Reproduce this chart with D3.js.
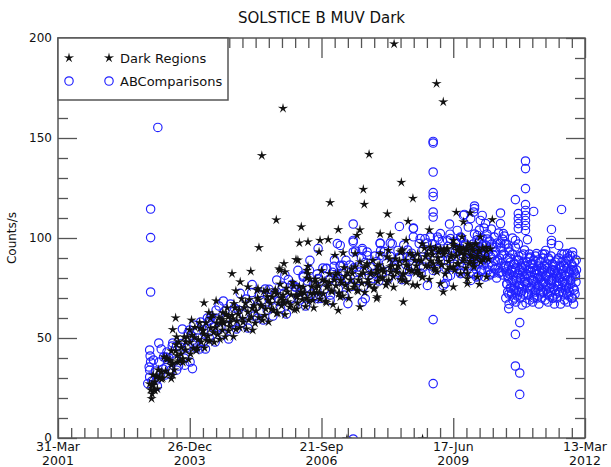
<!DOCTYPE html>
<html>
<head>
<meta charset="utf-8">
<script src="https://cdn.jsdelivr.net/npm/d3@7"></script>
<style>
  body { margin: 0; background: #fff; }
  text { font-family: "DejaVu Sans", sans-serif; fill: #111; }
</style>
</head>
<body>
<div id="chart"></div>
<script>
// ---- data (decimal year, counts/s) ----
const chartTitle = "SOLSTICE B MUV Dark";
const yLabel = "Counts/s";
const seriesNames = ["Dark Regions", "ABComparisons"];
const yMajorTicks = [0, 50, 100, 150, 200];
const xMajorTicks = ["2001-03-31", "2003-12-26", "2006-09-21", "2009-06-17", "2012-03-13"];

const darkRegions = [
  // scattered high / low points
  [2008.23,197],[2009.11,177.2],[2009.25,168],[2005.92,164.8],[2005.48,141.2],[2007.71,141.8],
  [2008.38,127.8],[2007.59,124.3],[2006.90,117.7],[2007.61,116.8],[2008.62,119.8],[2005.78,109],
  [2006.30,105.5],[2007.07,104.2],[2008.09,112],[2008.52,108.3],[2005.42,95.2],[2009.52,112.8],
  [2009.67,108],[2009.81,112.5],[2010.27,109.2],[2007.52,104],[2007.94,102],[2008.15,101.5],
  [2008.96,104],[2008.48,98.8],[2008.81,97],[2007.46,101.3],[2006.26,97.5],[2006.44,98],
  [2006.69,98.8],[2006.86,99.2],[2006.67,93],[2007.00,91.3],[2007.17,92.5],[2007.42,92.2],
  [2007.94,92.2],[2008.11,93.8],[2008.36,93],[2008.40,94],[2008.98,95.5],[2009.15,93],
  [2009.34,94.7],[2009.54,93.8],[2009.67,94.7],[2009.81,96.3],[2009.46,98.8],[2009.64,100.5],
  [2009.92,97.2],[2010.02,100.5],[2009.25,93.8],[2009.75,93.8],[2009.85,90.5],[2009.88,87.2],
  [2006.19,89.2],[2005.94,87.2],[2005.84,84.5],[2006.23,88.9],[2005.86,83.8],[2005.96,83],
  [2006.42,83.8],[2006.44,85.8],[2006.44,82.2],[2006.59,78],[2004.86,82.2],[2005.25,83.3],
  [2005.03,78],[2004.94,73.5],[2005.38,73.9],[2005.59,73.9],[2005.80,72.2],[2005.19,75.5],
  [2005.40,74.7],[2004.28,67.5],[2004.53,68.5],[2004.90,67.2],[2003.69,60],[2004.02,58.9],
  [2004.38,62.7],[2004.67,62.7],[2004.78,60.5],[2004.65,59.2],[2003.63,54.2],[2003.98,54],
  [2003.71,50.5],[2004.26,53.9],[2003.22,26.4],[2003.26,23.9],[2003.19,19.7],[2003.60,29.7],
  [2003.63,31.4],[2003.84,39.7],[2003.73,38],[2007.52,65.5],[2007.87,69.7],[2008.42,68],
  [2009.25,73],[2009.46,75.5],[2007.07,63.8],[2009.75,77.2],[2010.00,76.8],[2010.15,80.5],
  [2009.75,79.7],[2007.67,87.2],[2007.88,83.8],[2008.15,85.5],[2008.42,82.2],[2008.71,83.8],
  [2009.04,87.2],[2009.46,85.5],[2009.75,82.2],[2009.96,80.5],[2007.88,70.5],[2008.71,76.3],
  [2009.19,77.2],[2009.61,82.2],[2005.92,68.8],[2006.21,70.5],[2006.55,72.2],[2006.83,75.5],
  [2007.11,70.5],[2007.25,-0.5],[2008.82,-0.5],
  // main band
  [2003.15,27],[2003.17,24],[2003.19,26.5],[2003.20,22],[2003.22,31.5],[2003.24,24],[2003.26,28],
  [2003.28,30.5],[2003.31,24.5],[2003.33,34],[2003.36,30],[2003.39,33],[2003.42,30],[2003.45,40.5],
  [2003.48,33.5],[2003.51,39.3],[2003.54,32],[2003.57,38.8],[2003.60,43.5],[2003.63,37.3],
  [2003.66,34],[2003.69,43.5],[2003.72,41.2],[2003.75,48],[2003.78,38.5],[2003.81,45.2],
  [2003.84,37.8],[2003.87,50.4],[2003.90,44],[2003.93,50.6],[2003.96,39.2],[2003.99,47.8],
  [2004.03,51.4],[2004.06,44.8],[2004.09,55.3],[2004.12,43.7],[2004.16,49.2],[2004.19,57.7],
  [2004.22,48],[2004.26,53.6],[2004.29,45],[2004.32,57.5],[2004.36,51],[2004.39,48.5],
  [2004.42,54.9],[2004.46,61.4],[2004.49,47.9],[2004.52,55.2],[2004.56,51.7],[2004.59,60.1],
  [2004.62,57.4],[2004.66,53.9],[2004.69,57.3],[2004.72,50.6],[2004.76,65.1],[2004.79,53.5],
  [2004.82,57.8],[2004.86,61.3],[2004.89,50.7],[2004.92,65],[2004.96,58.5],[2004.99,61.9],
  [2005.02,55.2],[2005.06,69.6],[2005.09,57.9],[2005.12,65.2],[2005.16,54.6],[2005.19,62.9],
  [2005.22,69.2],[2005.26,60.6],[2005.29,53.9],[2005.32,66.2],[2005.36,63.6],[2005.39,69.9],
  [2005.42,60.2],[2005.46,66.6],[2005.49,58.9],[2005.52,73.2],[2005.56,64.5],[2005.59,70.7],
  [2005.62,58],[2005.66,67.3],[2005.69,70.5],[2005.72,63.8],[2005.76,74.1],[2005.79,62.3],
  [2005.82,67.6],[2005.86,76.9],[2005.89,66.1],[2005.92,71.4],[2005.96,61.7],[2005.99,74.9],
  [2006.02,68.1],[2006.06,65.4],[2006.09,71.6],[2006.12,77.8],[2006.16,64.1],[2006.19,71.3],
  [2006.22,67.5],[2006.26,75.8],[2006.29,73],[2006.32,69.2],[2006.36,72.5],[2006.39,65.7],
  [2006.42,79.9],[2006.46,68.2],[2006.49,72.4],[2006.52,75.7],[2006.56,65.1],[2006.59,79.4],
  [2006.62,72.7],[2006.66,76.1],[2006.69,69.4],[2006.72,83.7],[2006.76,72.1],[2006.79,78.4],
  [2006.82,67.7],[2006.86,76],[2006.89,82.2],[2006.92,73.5],[2006.96,66.7],[2006.99,79],
  [2007.02,76.1],[2007.06,82.4],[2007.09,72.6],[2007.12,78.8],[2007.16,71],[2007.19,85.2],
  [2007.22,76.4],[2007.26,82.6],[2007.29,69.8],[2007.32,79],[2007.36,82.2],[2007.39,75.4],
  [2007.42,85.6],[2007.46,73.8],[2007.49,79],[2007.52,88.1],[2007.56,77.4],[2007.59,82.6],
  [2007.62,72.8],[2007.66,86],[2007.69,79.2],[2007.72,76.4],[2007.76,82.6],[2007.79,88.8],
  [2007.82,75],[2007.86,82.2],[2007.89,78.4],[2007.92,86.5],[2007.96,83.8],[2007.99,80],
  [2008.02,83.1],[2008.06,76.4],[2008.09,90.6],[2008.12,78.8],[2008.16,83],[2008.19,86.2],
  [2008.22,75.4],[2008.26,89.6],[2008.29,82.8],[2008.32,86],[2008.36,79.2],[2008.39,93.4],
  [2008.42,81.6],[2008.46,88.8],[2008.49,78],[2008.52,86.1],[2008.56,92.3],[2008.59,83.5],
  [2008.62,76.6],[2008.66,88.8],[2008.69,86],[2008.72,92.1],[2008.76,82.3],[2008.79,88.5],
  [2008.82,80.6],[2008.86,94.8],[2008.89,86],[2008.92,92.1],[2008.96,79.3],[2008.99,88.5],
  [2009.02,91.6],[2009.06,84.8],[2009.09,95],[2009.12,83.1],[2009.16,88.3],[2009.19,94.5],
  [2009.22,86.6],[2009.26,91.8],[2009.29,82],[2009.32,94.1],[2009.36,88.3],[2009.39,85.4],
  [2009.42,91.6],[2009.46,96.8],[2009.49,83.9],[2009.52,91],[2009.56,87.2],[2009.59,95.4],
  [2009.62,92.5],[2009.66,88.6],[2009.69,91.8],[2009.72,84.9],[2009.76,97],[2009.79,87.2],
  [2009.82,91.3],[2009.86,94.4],[2009.89,85.5],[2009.92,96.6],[2009.96,90.8],[2009.99,93.9],
  [2010.03,88],[2010.07,95.1],[2010.11,90.2],[2010.15,93.3],[2010.19,89.4],[2010.23,94.5],
  // main band, second pass
  [2003.30,31],[2003.40,29.5],[2003.50,40],[2003.60,36.5],[2003.70,46.7],[2003.80,42],
  [2003.90,48],[2004.00,42],[2004.08,50.2],[2004.14,45],[2004.20,54.8],[2004.27,51.8],
  [2004.34,48.8],[2004.41,59.8],[2004.48,52.7],[2004.54,57.5],[2004.61,49.3],[2004.68,58.2],
  [2004.74,61.9],[2004.81,55.7],[2004.88,59.6],[2004.94,54.3],[2005.01,64.1],[2005.08,59.8],
  [2005.14,67.4],[2005.21,59.1],[2005.28,64.8],[2005.34,57.4],[2005.41,69.1],[2005.48,65.8],
  [2005.54,61.3],[2005.61,68.9],[2005.68,64.4],[2005.74,72.9],[2005.81,62.5],[2005.88,70],
  [2005.94,67.5],[2006.01,73],[2006.08,66.6],[2006.14,76],[2006.21,64.5],[2006.28,72],
  [2006.34,75.4],[2006.41,69.9],[2006.48,79.4],[2006.54,68.8],[2006.61,75.2],[2006.68,72.6],
  [2006.74,79],[2006.81,68.4],[2006.88,77.8],[2006.94,73.2],[2007.01,81.6],[2007.08,72],
  [2007.14,77.4],[2007.21,80.8],[2007.28,74.2],[2007.34,84.6],[2007.41,77],[2007.48,73.4],
  [2007.54,81.7],[2007.61,85.2],[2007.68,77.6],[2007.74,82],[2007.81,74.4],[2007.88,85.8],
  [2007.94,80.2],[2008.01,84.6],[2008.08,78],[2008.14,89.4],[2008.21,80.8],[2008.28,84.2],
  [2008.34,88.6],[2008.41,79],[2008.48,86.4],[2008.54,83.8],[2008.61,91.2],[2008.68,82.6],
  [2008.74,88.9],[2008.81,80.3],[2008.88,90.7],[2008.94,86],[2009.01,93.5],[2009.08,83.9],
  [2009.14,90.2],[2009.21,86.6],[2009.28,93.9],[2009.34,84.2],[2009.41,90.5],[2009.48,95.8],
  [2009.54,87.1],[2009.61,93.4],[2009.68,89.7],[2009.74,95],[2009.81,88.3],[2009.88,93.5],
  [2009.94,89.8],[2010.01,93],[2010.08,89.2],[2010.14,95.3]
];

const abComparisons = [
  // scattered high / low points
  [2003.32,155.3],[2003.17,114.5],[2003.17,100.2],[2003.17,73],
  [2009.04,148.3],[2009.04,147.5],[2009.04,133],[2009.04,122.7],[2009.04,120.8],[2009.04,113],
  [2009.04,110.5],[2009.04,59.2],[2009.04,27.2],[2007.38,-0.5],
  [2010.96,138.5],[2010.96,134.7],[2010.96,124.7],[2010.96,116.7],[2010.96,113.8],[2010.96,111.3],
  [2010.96,108.8],[2010.96,106.3],[2010.96,103.8],[2010.75,119.2],[2011.13,113.3],[2010.81,112.2],
  [2010.81,109.7],[2010.81,107.2],[2010.81,104.7],[2011.71,114.3],[2010.61,64.7],[2010.84,57.7],
  [2010.75,51.8],[2010.75,36],[2010.84,32.5],[2010.84,21.8],
  // early points
  [2003.11,27.2],[2003.15,33.9],[2003.17,38],[2003.15,30.5],[2003.14,35.5],[2003.16,41],[2003.15,44],
  [2003.29,28.9],[2003.38,32.2],[2003.44,40.5],[2003.49,35.2],[2003.49,40.5],[2003.34,47.5],
  [2003.62,46],[2003.71,33.9],[2003.81,47.2],[2003.88,36.4],[2003.95,46.3],[2004.04,34.7],
  [2004.09,48],[2004.26,48],[2003.98,54],[2004.21,58],[2004.38,58.5],[2004.53,63.9],[2004.68,68.5],
  [2004.59,54.4],[2004.40,58.9],
  // band
  [2003.20,28.5],[2003.23,39],[2003.27,33.5],[2003.31,26],[2003.35,38],[2003.39,44.5],[2003.43,34.5],
  [2003.47,31.5],[2003.51,43],[2003.55,40],[2003.59,34],[2003.63,47.5],[2003.67,38.5],[2003.71,46],
  [2003.75,36],[2003.79,45.5],[2003.83,54.5],[2003.87,40],[2003.91,45],[2003.95,52.5],[2003.99,38],
  [2004.03,51],[2004.07,56.5],[2004.11,45],[2004.15,50],[2004.19,44.5],[2004.23,56],[2004.27,54],
  [2004.31,44.5],[2004.35,60],[2004.39,50],[2004.43,60.5],[2004.47,55.5],[2004.51,48],[2004.55,59.5],
  [2004.59,66],[2004.63,55.5],[2004.67,52],[2004.71,63.5],[2004.75,60],[2004.79,49.5],[2004.83,67],
  [2004.87,57.5],[2004.91,65],[2004.95,54.5],[2004.99,64],[2005.03,72.3],[2005.07,57.7],[2005.11,62],
  [2005.15,69.5],[2005.19,55],[2005.23,67.3],[2005.27,72.7],[2005.31,61],[2005.35,65.5],[2005.39,60],
  [2005.43,71.3],[2005.47,68.7],[2005.51,59],[2005.55,74.5],[2005.59,64],[2005.63,74.3],[2005.67,68.7],
  [2005.71,61],[2005.75,72.5],[2005.79,79],[2005.83,68.3],[2005.87,64.7],[2005.91,76],[2005.95,72.5],
  [2005.99,62],[2006.03,79.2],[2006.07,69.5],[2006.11,76.8],[2006.15,66],[2006.19,75.5],[2006.23,83.8],
  [2006.27,69],[2006.31,73.5],[2006.35,80.8],[2006.39,66],[2006.43,78.5],[2006.47,83.8],[2006.51,72],
  [2006.55,76.5],[2006.59,70.8],[2006.63,82],[2006.67,79.5],[2006.71,69.8],[2006.75,85],[2006.79,74.5],
  [2006.83,84.8],[2006.87,79],[2006.91,71.5],[2006.95,82.8],[2006.99,89],[2007.03,78.3],[2007.07,74.6],
  [2007.11,86],[2007.15,82.2],[2007.19,71.5],[2007.23,88.8],[2007.27,79.2],[2007.31,86.5],[2007.35,75.8],
  [2007.39,85.1],[2007.43,93.5],[2007.47,78.8],[2007.51,83],[2007.55,90.3],[2007.59,75.5],[2007.63,87.8],
  [2007.67,93],[2007.71,81.2],[2007.75,85.5],[2007.79,79.7],[2007.83,91],[2007.87,88.2],[2007.91,78.5],
  [2007.95,93.7],[2007.99,83],[2008.03,93.2],[2008.07,87.4],[2008.11,79.6],[2008.15,90.9],[2008.19,97.1],
  [2008.23,86.3],[2008.27,82.6],[2008.31,93.8],[2008.35,90],[2008.39,79.2],[2008.43,96.5],[2008.47,86.7],
  [2008.51,94],[2008.55,83.2],[2008.59,92.4],[2008.63,100.6],[2008.67,85.8],[2008.71,90],[2008.75,97.2],
  [2008.79,82.3],[2008.83,94.5],[2008.87,99.6],[2008.91,87.8],[2008.95,91.9],[2008.99,86],[2009.03,97.1],
  [2009.07,94.2],[2009.11,84.3],[2009.15,99.4],[2009.19,88.5],[2009.23,98.6],[2009.27,92.7],[2009.31,84.8],
  [2009.35,95.8],[2009.39,101.9],[2009.43,91],[2009.47,87],[2009.51,98],[2009.55,94],[2009.59,83],
  [2009.63,100],[2009.67,90],[2009.71,97],[2009.75,86],[2009.79,95],
  // individually read points in the band
  [2005.28,76.7],[2005.96,81.4],[2006.17,75.5],[2006.28,73.8],[2006.34,80.5],[2006.34,81.4],[2006.48,88.8],
  [2006.65,69.7],[2006.65,79.7],[2006.65,94.7],[2006.82,84.7],[2006.90,68.8],[2006.90,79.7],[2006.98,85.8],
  [2007.05,97.2],[2007.05,81.3],[2007.11,86.3],[2007.11,96.3],[2007.11,79.7],[2007.17,86.3],[2007.25,79.7],
  [2007.27,67.2],[2007.38,98],[2007.38,93],[2007.38,98.8],[2007.38,107],[2007.46,85.5],[2007.57,93.8],
  [2007.57,94.7],[2007.57,68],[2007.63,69.7],[2007.67,83.8],[2007.67,91.3],[2007.82,82.2],[2007.94,91.3],
  [2007.94,97.2],[2007.94,97.5],[2008.15,90.8],[2008.15,97.5],[2008.21,85.5],[2008.34,105.8],[2008.34,90.5],
  [2008.50,80.5],[2008.50,90.5],[2008.57,90.5],[2008.63,105],[2008.63,104.7],[2008.71,89.7],[2008.77,99.7],
  [2008.84,85.5],[2008.92,76.3],[2008.92,97.5],[2008.98,100.5],[2009.04,83.8],[2009.13,94.7],[2009.13,100.5],
  [2009.19,90.8],[2009.19,102.2],[2009.25,76.3],[2009.29,77.2],[2009.34,80.5],[2009.34,98.8],[2009.40,89.7],
  [2009.40,99.7],[2009.40,81.3],[2009.38,107],[2009.54,97.2],[2009.54,103.8],[2009.54,94.7],[2009.61,82.2],
  [2009.61,100.5],[2009.61,94.7],[2009.61,83.8],[2009.67,111.3],[2009.69,111.8],[2009.71,96.3],[2009.71,88.8],
  [2009.77,105.5],[2009.82,78.8],[2009.82,109.7],[2009.88,95.5],[2009.88,91.3],[2009.88,113],[2009.90,116],
  [2009.90,114.7],[2009.96,101.3],[2009.96,91.3],
  // late 2009 - mid 2010
  [2009.85,86],[2009.87,97],[2009.88,82],[2009.90,102],[2009.92,90],[2009.93,84.5],[2009.95,99],
  [2009.96,93.5],[2009.98,81],[2010.00,104],[2010.01,88],[2010.03,95],[2010.04,83.5],[2010.06,100],
  [2010.07,91],[2010.09,86.5],[2010.10,105],[2010.12,80.5],[2010.13,96.5],[2010.15,89],[2010.16,102],
  [2010.18,84],[2010.19,93],[2010.21,98.5],[2010.22,81.5],[2010.24,90.5],[2010.25,104.5],[2010.27,86],
  [2010.28,95.5],[2010.30,82.5],[2010.31,100.5],[2010.33,88.5],[2010.34,93],[2010.36,80],[2010.37,97.5],
  [2010.39,85],[2010.40,102.5],[2010.42,90],[2010.43,83],[2010.45,95],[2010.46,87.5],[2010.48,99.5],
  [2010.49,81.5],[2010.51,92],[2010.52,86],[2010.53,97],
  [2009.86,92],[2009.89,88.5],[2009.91,95.5],[2009.94,80.5],[2009.97,87],[2009.99,98],[2010.02,92.5],
  [2010.05,84],[2010.08,97],[2010.11,89.5],[2010.14,93],[2010.17,99.5],[2010.20,87],[2010.23,82],
  [2010.26,97],[2010.29,91.5],[2010.32,84.5],[2010.35,95.5],[2010.38,89],[2010.41,82.5],[2010.44,97.5],
  [2010.47,91.5],[2010.50,85],[2010.52,101],
  [2010.06,111.3],[2010.02,108.8],[2010.13,107.2],[2010.44,107.2],[2010.44,112.5],[2010.50,102.2],
  // late 2010 - 2012
  [2010.55,70],[2010.56,83],[2010.57,77],[2010.58,90],[2010.59,73],[2010.60,80],[2010.61,86],[2010.62,67],
  [2010.63,82],[2010.64,75],[2010.65,88],[2010.66,78],[2010.67,72],[2010.68,84],[2010.69,92],[2010.70,69],
  [2010.71,81],[2010.72,74],[2010.73,87],[2010.74,76],[2010.75,85],[2010.76,68],[2010.77,79],[2010.78,89],
  [2010.79,71],[2010.80,82],[2010.81,73],[2010.82,91],[2010.83,77],[2010.84,84],[2010.85,70],[2010.86,80],
  [2010.87,86],[2010.88,75],[2010.89,66.5],[2010.90,83],[2010.91,88],[2010.92,72],[2010.93,81],[2010.94,78],
  [2010.95,80],[2010.96,86],[2010.97,67.5],[2010.98,82],[2010.99,75],[2011.00,88],[2011.01,78],[2011.02,72],
  [2011.03,84],[2011.04,92],[2011.05,69],[2011.06,81],[2011.07,74],[2011.08,87],[2011.09,76],[2011.10,85],
  [2011.11,68],[2011.12,79],[2011.13,89],[2011.14,71],[2011.15,82],[2011.16,73],[2011.17,91],[2011.18,77],
  [2011.19,84],[2011.20,70],[2011.21,80],[2011.22,86],[2011.23,75],[2011.24,67],[2011.25,83],[2011.26,88],
  [2011.27,72],[2011.28,81],[2011.29,78],[2011.30,70],[2011.31,83],[2011.32,77],[2011.33,90],[2011.34,73],
  [2011.35,84],[2011.36,92],[2011.37,69],[2011.38,81],[2011.39,74],[2011.40,87],[2011.41,76],[2011.42,85],
  [2011.43,68],[2011.44,79],[2011.45,89],[2011.46,71],[2011.47,82],[2011.48,73],[2011.49,91],[2011.50,77],
  [2011.51,84],[2011.52,70],[2011.53,80],[2011.54,86],[2011.55,75],[2011.56,67],[2011.57,83],[2011.58,88],
  [2011.59,72],[2011.60,81],[2011.61,78],[2011.62,70],[2011.63,83],[2011.64,77],[2011.65,90],[2011.66,73],
  [2011.67,80],[2011.68,86],[2011.69,67],[2011.70,82],[2011.71,75],[2011.72,88],[2011.73,78],[2011.74,72],
  [2011.75,84],[2011.76,92],[2011.77,69],[2011.78,81],[2011.79,74],[2011.80,87],[2011.81,76],[2011.82,85],
  [2011.83,68],[2011.84,79],[2011.85,89],[2011.86,71],[2011.87,82],[2011.88,73],[2011.89,91],[2011.90,77],
  [2011.91,84],[2011.92,70],[2011.93,80],[2011.94,86],[2011.95,75],[2011.96,67],[2011.97,83],[2011.98,88],
  [2011.99,72],[2012.00,81],[2012.01,78],[2012.02,84],
  [2010.555,86],[2010.575,77],[2010.595,81],[2010.615,72],[2010.635,90],[2010.655,75],[2010.675,83],
  [2010.695,79],[2010.715,87],[2010.735,70],[2010.755,84],[2010.775,74],[2010.795,82],[2010.815,89],
  [2010.835,76],[2010.855,80],[2010.875,73],[2010.895,85],[2010.915,92],[2010.935,78],[2010.955,86],
  [2010.975,77],[2010.995,81],[2011.015,72],[2011.035,90],[2011.055,75],[2011.075,83],[2011.095,79],
  [2011.115,87],[2011.135,70],[2011.155,84],[2011.175,74],[2011.195,82],[2011.215,89],[2011.235,76],
  [2011.255,80],[2011.275,73],[2011.295,85],[2011.315,92],[2011.335,78],[2011.355,86],[2011.375,77],
  [2011.395,81],[2011.415,72],[2011.435,90],[2011.455,75],[2011.475,83],[2011.495,79],[2011.515,87],
  [2011.535,70],[2011.555,84],[2011.575,74],[2011.595,82],[2011.615,89],[2011.635,76],[2011.655,80],
  [2011.675,73],[2011.695,85],[2011.715,92],[2011.735,78],[2011.755,86],[2011.775,77],[2011.795,81],
  [2011.815,72],[2011.835,90],[2011.855,75],[2011.875,83],[2011.895,79],[2011.915,87],[2011.935,70],
  [2011.955,84],[2011.975,74],[2011.995,82],[2012.015,89],
  [2010.56,97],[2010.69,100],[2010.75,95.5],[2010.75,98.8],[2010.81,97],[2010.88,91.3],[2010.94,94],
  [2011.00,99.2],[2011.06,90.5],[2011.19,92.2],[2011.38,93.8],[2011.50,98.8],[2011.50,97.2],[2011.50,104.3],
  [2011.65,96.3],[2011.83,92.2],[2011.94,93],[2011.94,91.3],[2010.61,95],[2010.63,93]
];

// ---- layout ----
const width = 611, height = 467;
const plot = { left: 58, right: 585, top: 38, bottom: 438 };
const frameColor = "#555";
const starColor = "#111";
const circleColor = "#2020ff";

const parseDay = d3.utcParse("%Y-%m-%d");
const fromDecimalYear = y => {
  const yr = Math.floor(y);
  const t0 = Date.UTC(yr, 0, 1), t1 = Date.UTC(yr + 1, 0, 1);
  return new Date(t0 + (y - yr) * (t1 - t0));
};

const majorDates = xMajorTicks.map(parseDay);
// minor ticks every 100 days between the 1000-day major ticks
const minorDates = [];
for (let i = 0; i < majorDates.length - 1; i++) {
  for (let k = 1; k < 10; k++) {
    minorDates.push(d3.utcDay.offset(majorDates[i], k * 100));
  }
}

const xScale = d3.scaleUtc()
  .domain([majorDates[0], majorDates[majorDates.length - 1]])
  .range([plot.left, plot.right]);
const yScale = d3.scaleLinear().domain([0, 200]).range([plot.bottom, plot.top]);
const yMinorTicks = d3.range(0, 201, 10).filter(v => v % 50 !== 0);

const svg = d3.select("#chart").append("svg")
  .attr("width", width).attr("height", height);

svg.append("defs").append("clipPath").attr("id", "plotClip")
  .append("rect")
  .attr("x", plot.left).attr("y", plot.top)
  .attr("width", plot.right - plot.left).attr("height", plot.bottom - plot.top);

// thin five-pointed star marker
const starPath = (r, ri) => {
  const pts = d3.range(10).map(i => {
    const a = -Math.PI / 2 + i * Math.PI / 5;
    const rr = i % 2 ? ri : r;
    return [rr * Math.cos(a), rr * Math.sin(a)];
  });
  return "M" + pts.map(p => p.join(",")).join("L") + "Z";
};
const starD = starPath(5.4, 1.7);

/* data: circles first, stars drawn over them */
const dataLayer = svg.append("g").attr("clip-path", "url(#plotClip)");

dataLayer.append("g").selectAll("circle")
  .data(abComparisons)
  .join("circle")
    .attr("cx", d => xScale(fromDecimalYear(d[0])))
    .attr("cy", d => yScale(d[1]))
    .attr("r", 4.2)
    .attr("fill", "none")
    .attr("stroke", circleColor)
    .attr("stroke-width", 1.15);

dataLayer.append("g").selectAll("path")
  .data(darkRegions)
  .join("path")
    .attr("d", starD)
    .attr("transform", d => `translate(${xScale(fromDecimalYear(d[0]))},${yScale(d[1])})`)
    .attr("fill", starColor);

/* axes (ticks pointing inward on all four sides) */
const styleAxis = g => {
  g.select(".domain").remove();
  g.selectAll("line").attr("stroke", frameColor).attr("stroke-width", 1.3);
};

svg.append("g").attr("transform", `translate(0,${plot.bottom})`)
  .call(d3.axisBottom(xScale).tickValues(minorDates).tickSize(-10).tickFormat(""))
  .call(styleAxis);
svg.append("g").attr("transform", `translate(0,${plot.bottom})`)
  .call(d3.axisBottom(xScale).tickValues(majorDates).tickSize(-20).tickFormat(""))
  .call(styleAxis);
svg.append("g").attr("transform", `translate(0,${plot.top})`)
  .call(d3.axisTop(xScale).tickValues(minorDates).tickSize(-10).tickFormat(""))
  .call(styleAxis);
svg.append("g").attr("transform", `translate(0,${plot.top})`)
  .call(d3.axisTop(xScale).tickValues(majorDates).tickSize(-20).tickFormat(""))
  .call(styleAxis);

svg.append("g").attr("transform", `translate(${plot.left},0)`)
  .call(d3.axisLeft(yScale).tickValues(yMinorTicks).tickSize(-10).tickFormat(""))
  .call(styleAxis);
const leftAxis = svg.append("g").attr("transform", `translate(${plot.left},0)`)
  .call(d3.axisLeft(yScale).tickValues(yMajorTicks).tickSize(-19).tickPadding(6))
  .call(styleAxis);
leftAxis.selectAll("text")
  .attr("font-family", "DejaVu Sans").attr("font-size", 12).attr("fill", "#111");
svg.append("g").attr("transform", `translate(${plot.right},0)`)
  .call(d3.axisRight(yScale).tickValues(yMinorTicks).tickSize(-10).tickFormat(""))
  .call(styleAxis);
svg.append("g").attr("transform", `translate(${plot.right},0)`)
  .call(d3.axisRight(yScale).tickValues(yMajorTicks).tickSize(-19).tickFormat(""))
  .call(styleAxis);

// two-line date labels
const fmtDay = d3.utcFormat("%d-%b"), fmtYear = d3.utcFormat("%Y");
const xLabels = svg.append("g").selectAll("text")
  .data(majorDates)
  .join("text")
    .attr("x", d => xScale(d))
    .attr("y", plot.bottom + 13)
    .attr("text-anchor", "middle")
    .attr("font-size", 12.5);
xLabels.append("tspan").attr("x", d => xScale(d)).text(fmtDay);
xLabels.append("tspan").attr("x", d => xScale(d)).attr("dy", 14).text(fmtYear);

// frame
svg.append("rect")
  .attr("x", plot.left).attr("y", plot.top)
  .attr("width", plot.right - plot.left).attr("height", plot.bottom - plot.top)
  .attr("fill", "none").attr("stroke", frameColor).attr("stroke-width", 1.5);

// title and y label
svg.append("text")
  .attr("x", (plot.left + plot.right) / 2).attr("y", 23)
  .attr("text-anchor", "middle").attr("font-size", 15)
  .text(chartTitle);

svg.append("text")
  .attr("transform", `translate(16,${(plot.top + plot.bottom) / 2}) rotate(-90)`)
  .attr("text-anchor", "middle").attr("font-size", 12)
  .text(yLabel);

/* legend */
const legend = svg.append("g");
legend.append("rect")
  .attr("x", plot.left).attr("y", plot.top)
  .attr("width", 170).attr("height", 62)
  .attr("fill", "#fff").attr("stroke", frameColor).attr("stroke-width", 1.5);

const legendRows = legend.selectAll("g.row")
  .data(seriesNames)
  .join("g")
    .attr("class", "row")
    .attr("transform", (d, i) => `translate(0,${plot.top + 20 + i * 23})`);

legendRows.each(function(d, i) {
  const row = d3.select(this);
  [plot.left + 11, plot.left + 51].forEach(cx => {
    if (i === 0) {
      row.append("path").attr("d", starD)
        .attr("transform", `translate(${cx},0)`)
        .attr("fill", starColor);
    } else {
      row.append("circle").attr("cx", cx).attr("cy", 0).attr("r", 4.2)
        .attr("fill", "none").attr("stroke", circleColor).attr("stroke-width", 1.15);
    }
  });
  row.append("text")
    .attr("x", plot.left + 62).attr("y", 0).attr("dy", "0.35em")
    .attr("font-size", 13)
    .text(d);
});
</script>
</body>
</html>
